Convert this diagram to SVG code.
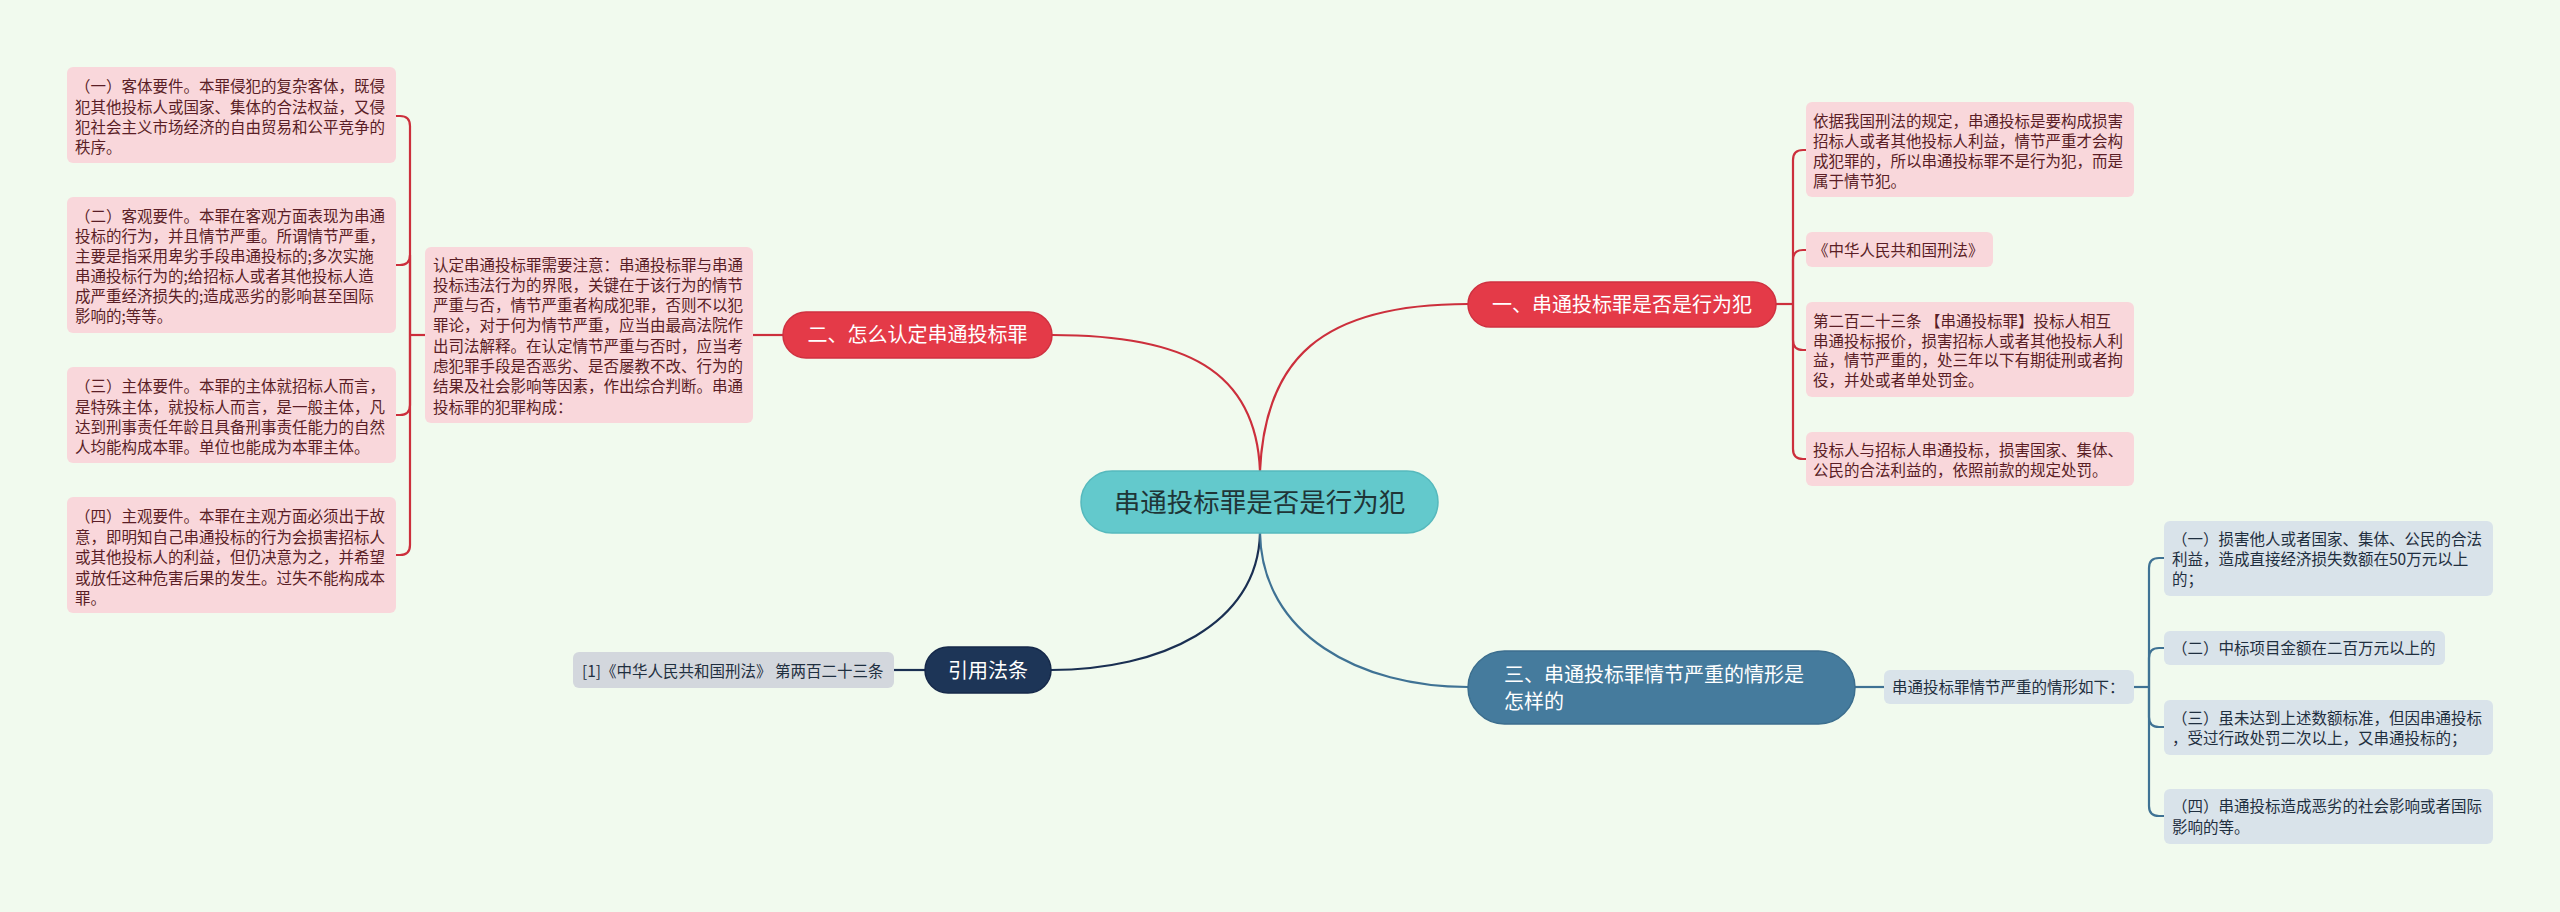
<svg xmlns="http://www.w3.org/2000/svg" width="2560" height="912" viewBox="0 0 2560 912">
<style>
text{font-family:"Noto Sans CJK SC","Noto Sans",sans-serif}
.bg{fill:#f1faee}
.pink{fill:#f9d7db}
.pt{font-size:15.5px;fill:#5a1e26}
.blue{fill:#d9e3ea}
.bt{font-size:15.5px;fill:#1f2f3f}
.grey{fill:#d3d7dd}
.red{fill:#e43a48;stroke:#cf3140;stroke-width:1.5}
.wt{fill:#ffffff;font-size:20px}
.cr{fill:none;stroke:#cc2f3c;stroke-width:2.2}
.cs{fill:none;stroke:#3f7294;stroke-width:2.2}
.cn{fill:none;stroke:#1a2f52;stroke-width:2.2}
</style>
<rect class="bg" x="0" y="0" width="2560" height="912"/>

<g id="connectors">
<path class="cr" d="M1260,471 C1265,360 1320,304 1468,304"/>
<path class="cr" d="M1260,471 C1256,370 1185,335 1052,335"/>
<path class="cn" d="M1260,533 C1258,625 1160,670 1051,670"/>
<path class="cs" d="M1260,533 C1262,635 1360,687 1468,687"/>
<path class="cr" d="M783,335 L753,335"/>
<path class="cr" d="M425,335 L410,335"/>
<path class="cr" d="M410,335 L410,126 Q410,116 400,116 L396,116"/>
<path class="cr" d="M410,335 L410,255 Q410,265 400,265 L396,265"/>
<path class="cr" d="M410,335 L410,405 Q410,415 400,415 L396,415"/>
<path class="cr" d="M410,335 L410,545 Q410,555 400,555 L396,555"/>
<path class="cr" d="M1776,304 L1793,304"/>
<path class="cr" d="M1793,304 L1793,160 Q1793,150 1803,150 L1806,150"/>
<path class="cr" d="M1793,304 L1793,260 Q1793,250 1803,250 L1806,250"/>
<path class="cr" d="M1793,304 L1793,340 Q1793,350 1803,350 L1806,350"/>
<path class="cr" d="M1793,304 L1793,449 Q1793,459 1803,459 L1806,459"/>
<path class="cs" d="M1855,687 L1884,687"/>
<path class="cs" d="M2134,687 L2149,687"/>
<path class="cs" d="M2149,687 L2149,568 Q2149,558 2159,558 L2164,558"/>
<path class="cs" d="M2149,687 L2149,658 Q2149,648 2159,648 L2164,648"/>
<path class="cs" d="M2149,687 L2149,717 Q2149,727 2159,727 L2164,727"/>
<path class="cs" d="M2149,687 L2149,806 Q2149,816 2159,816 L2164,816"/>
<path class="cn" d="M925,670 L894,670"/>
</g>

<g id="center">
<rect x="1081" y="471" width="357" height="62" rx="31" fill="#63c9cc" stroke="#56b9bd" stroke-width="1.5"/>
<text x="1259.5" y="511.5" text-anchor="middle" font-size="26.5" fill="#1f3537">串通投标罪是否是行为犯</text>
</g>

<g id="n1">
<rect class="red" x="1468" y="282" width="308" height="45" rx="22.5"/>
<text class="wt" x="1622" y="311.5" text-anchor="middle">一、串通投标罪是否是行为犯</text>
</g>

<g id="n2">
<rect class="red" x="783" y="312" width="269" height="46" rx="23"/>
<text class="wt" x="917.5" y="342" text-anchor="middle">二、怎么认定串通投标罪</text>
</g>

<g id="n3">
<rect x="1468" y="651" width="387" height="73" rx="36.5" fill="#457b9d" stroke="#3c6e8e" stroke-width="1.5"/>
<text class="wt" x="1504" y="682">三、串通投标罪情节严重的情形是</text>
<text class="wt" x="1504" y="708.5">怎样的</text>
</g>

<g id="n4">
<rect x="925" y="647" width="126" height="46" rx="23" fill="#1d3557" stroke="#16294a" stroke-width="1.5"/>
<text class="wt" x="988" y="677.5" text-anchor="middle">引用法条</text>
</g>

<g id="mid">
<rect class="pink" x="425" y="247" width="328" height="176" rx="6"/>
<text class="pt" x="433"><tspan x="433" y="270.5">认定串通投标罪需要注意：串通投标罪与串通</tspan><tspan x="433" y="290.8">投标违法行为的界限，关键在于该行为的情节</tspan><tspan x="433" y="311.1">严重与否，情节严重者构成犯罪，否则不以犯</tspan><tspan x="433" y="331.4">罪论，对于何为情节严重，应当由最高法院作</tspan><tspan x="433" y="351.7">出司法解释。在认定情节严重与否时，应当考</tspan><tspan x="433" y="372">虑犯罪手段是否恶劣、是否屡教不改、行为的</tspan><tspan x="433" y="392.3">结果及社会影响等因素，作出综合判断。串通</tspan><tspan x="433" y="412.6">投标罪的犯罪构成：</tspan></text>
</g>

<g id="l1">
<rect class="pink" x="67" y="67" width="329" height="96" rx="6"/>
<text class="pt"><tspan x="75" y="92">（一）客体要件。本罪侵犯的复杂客体，既侵</tspan><tspan x="75" y="112.5">犯其他投标人或国家、集体的合法权益，又侵</tspan><tspan x="75" y="133">犯社会主义市场经济的自由贸易和公平竞争的</tspan><tspan x="75" y="153">秩序。</tspan></text>
</g>

<g id="l2">
<rect class="pink" x="67" y="197" width="329" height="136" rx="6"/>
<text class="pt"><tspan x="75" y="222">（二）客观要件。本罪在客观方面表现为串通</tspan><tspan x="75" y="242">投标的行为，并且情节严重。所谓情节严重，</tspan><tspan x="75" y="262">主要是指采用卑劣手段串通投标的;多次实施</tspan><tspan x="75" y="282">串通投标行为的;给招标人或者其他投标人造</tspan><tspan x="75" y="302">成严重经济损失的;造成恶劣的影响甚至国际</tspan><tspan x="75" y="322">影响的;等等。</tspan></text>
</g>

<g id="l3">
<rect class="pink" x="67" y="367" width="329" height="96" rx="6"/>
<text class="pt"><tspan x="75" y="392">（三）主体要件。本罪的主体就招标人而言，</tspan><tspan x="75" y="412.5">是特殊主体，就投标人而言，是一般主体，凡</tspan><tspan x="75" y="433">达到刑事责任年龄且具备刑事责任能力的自然</tspan><tspan x="75" y="453">人均能构成本罪。单位也能成为本罪主体。</tspan></text>
</g>

<g id="l4">
<rect class="pink" x="67" y="497" width="329" height="116" rx="6"/>
<text class="pt"><tspan x="75" y="522">（四）主观要件。本罪在主观方面必须出于故</tspan><tspan x="75" y="542.5">意，即明知自己串通投标的行为会损害招标人</tspan><tspan x="75" y="563">或其他投标人的利益，但仍决意为之，并希望</tspan><tspan x="75" y="583.5">或放任这种危害后果的发生。过失不能构成本</tspan><tspan x="75" y="604">罪。</tspan></text>
</g>

<g id="r1">
<rect class="pink" x="1806" y="102" width="328" height="95" rx="6"/>
<text class="pt"><tspan x="1813" y="127">依据我国刑法的规定，串通投标是要构成损害</tspan><tspan x="1813" y="147">招标人或者其他投标人利益，情节严重才会构</tspan><tspan x="1813" y="167">成犯罪的，所以串通投标罪不是行为犯，而是</tspan><tspan x="1813" y="186.5">属于情节犯。</tspan></text>
</g>

<g id="r2">
<rect class="pink" x="1806" y="232" width="187" height="35" rx="6"/>
<text class="pt" x="1813" y="256">《中华人民共和国刑法》</text>
</g>

<g id="r3">
<rect class="pink" x="1806" y="302" width="328" height="95" rx="6"/>
<text class="pt"><tspan x="1813" y="327">第二百二十三条 【串通投标罪】投标人相互</tspan><tspan x="1813" y="347">串通投标报价，损害招标人或者其他投标人利</tspan><tspan x="1813" y="366">益，情节严重的，处三年以下有期徒刑或者拘</tspan><tspan x="1813" y="385.5">役，并处或者单处罚金。</tspan></text>
</g>

<g id="r4">
<rect class="pink" x="1806" y="432" width="328" height="54" rx="6"/>
<text class="pt"><tspan x="1813" y="456">投标人与招标人串通投标，损害国家、集体、</tspan><tspan x="1813" y="476">公民的合法利益的，依照前款的规定处罚。</tspan></text>
</g>

<g id="s0">
<rect class="blue" x="1884" y="670" width="250" height="34" rx="6"/>
<text class="bt" x="1892" y="693">串通投标罪情节严重的情形如下：</text>
</g>

<g id="s1">
<rect class="blue" x="2164" y="521" width="329" height="75" rx="6"/>
<text class="bt"><tspan x="2172" y="545">（一）损害他人或者国家、集体、公民的合法</tspan><tspan x="2172" y="565">利益，造成直接经济损失数额在50万元以上</tspan><tspan x="2172" y="585">的；</tspan></text>
</g>

<g id="s2">
<rect class="blue" x="2164" y="631" width="281" height="34" rx="6"/>
<text class="bt" x="2172" y="654">（二）中标项目金额在二百万元以上的</text>
</g>

<g id="s3">
<rect class="blue" x="2164" y="700" width="329" height="55" rx="6"/>
<text class="bt"><tspan x="2172" y="724">（三）虽未达到上述数额标准，但因串通投标</tspan><tspan x="2172" y="744">，受过行政处罚二次以上，又串通投标的；</tspan></text>
</g>

<g id="s4">
<rect class="blue" x="2164" y="789" width="329" height="55" rx="6"/>
<text class="bt"><tspan x="2172" y="812">（四）串通投标造成恶劣的社会影响或者国际</tspan><tspan x="2172" y="832.5">影响的等。</tspan></text>
</g>

<g id="c1">
<rect class="grey" x="573" y="652" width="321" height="36" rx="6"/>
<text class="bt" x="582" y="677" font-size="15.5">[1]《中华人民共和国刑法》 第两百二十三条</text>
</g>
</svg>
